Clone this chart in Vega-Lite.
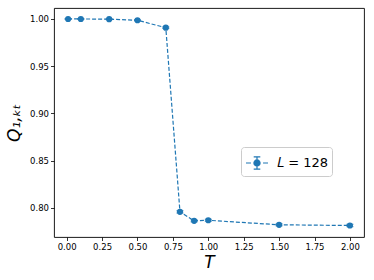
{
  "$schema": "https://vega.github.io/schema/vega-lite/v6.json",
  "width": 310,
  "height": 229,
  "autosize": "none",
  "padding": {"left": 54, "top": 8, "right": 10, "bottom": 43},
  "background": "white",
  "config": {
    "font": "DejaVu Sans",
    "view": {"stroke": "#000000", "strokeWidth": 0.9},
    "axis": {
      "grid": false,
      "domain": false,
      "tickColor": "#000000",
      "tickSize": 3.5,
      "tickWidth": 0.8,
      "labelFont": "DejaVu Sans",
      "labelFontSize": 8.5,
      "labelColor": "#000000",
      "labelPadding": 2,
      "titleFont": "DejaVu Sans",
      "titleFontWeight": "normal",
      "titleColor": "#000000"
    }
  },
  "data": {
    "values": [
      {"T": 0.01, "Q": 1.0, "err": 0.0004, "series": "𝐿 = 128"},
      {"T": 0.1, "Q": 1.0, "err": 0.0004, "series": "𝐿 = 128"},
      {"T": 0.3, "Q": 0.9998, "err": 0.0004, "series": "𝐿 = 128"},
      {"T": 0.5, "Q": 0.9986, "err": 0.0005, "series": "𝐿 = 128"},
      {"T": 0.7, "Q": 0.9908, "err": 0.0008, "series": "𝐿 = 128"},
      {"T": 0.8, "Q": 0.7959, "err": 0.0012, "series": "𝐿 = 128"},
      {"T": 0.9, "Q": 0.7864, "err": 0.001, "series": "𝐿 = 128"},
      {"T": 1.0, "Q": 0.787, "err": 0.001, "series": "𝐿 = 128"},
      {"T": 1.5, "Q": 0.7822, "err": 0.001, "series": "𝐿 = 128"},
      {"T": 2.0, "Q": 0.7815, "err": 0.0012, "series": "𝐿 = 128"}
    ]
  },
  "encoding": {
    "x": {
      "field": "T",
      "type": "quantitative",
      "scale": {"domain": [-0.0895, 2.0995], "nice": false, "zero": false},
      "axis": {
        "values": [0, 0.25, 0.5, 0.75, 1.0, 1.25, 1.5, 1.75, 2.0],
        "format": ".2f",
        "title": "T",
        "titleFontSize": 17,
        "titleFontStyle": "italic",
        "titlePadding": 3
      }
    }
  },
  "layer": [
    {
      "mark": {"type": "line", "color": "#1f77b4", "strokeDash": [4, 2], "strokeWidth": 1.2},
      "encoding": {
        "y": {
          "field": "Q",
          "type": "quantitative",
          "title": "Q₁,ₖₜ",
          "scale": {"domain": [0.7693, 1.0116], "nice": false, "zero": false},
          "axis": {
            "values": [0.8, 0.85, 0.9, 0.95, 1.0],
            "format": ".2f",
            "titleFontSize": 17,
            "titleFontStyle": "italic",
            "titlePadding": 6
          }
        }
      }
    },
    {
      "mark": {"type": "errorbar", "ticks": {"size": 7, "color": "#1f77b4"}, "color": "#1f77b4", "thickness": 1.2},
      "encoding": {
        "y": {"field": "Q", "type": "quantitative", "title": "Q₁,ₖₜ"},
        "yError": {"field": "err"}
      }
    },
    {
      "mark": {"type": "point", "filled": true, "opacity": 1, "size": 38},
      "encoding": {
        "y": {"field": "Q", "type": "quantitative", "title": "Q₁,ₖₜ"},
        "color": {
          "field": "series",
          "type": "nominal",
          "scale": {"range": ["#1f77b4"]},
          "legend": {
            "title": null,
            "orient": "none",
            "legendX": 187,
            "legendY": 139,
            "symbolType": "M-1,0H-0.55M-0.25,0H0.25M0.55,0H1M0,-0.55V0.55M-0.3,-0.55H0.3M-0.3,0.55H0.3M-0.28,0A0.28,0.28 0 1,0 0.28,0A0.28,0.28 0 1,0 -0.28,0Z",
            "symbolSize": 484,
            "symbolStrokeWidth": 1.2,
            "symbolFillColor": "#1f77b4",
            "symbolStrokeColor": "#1f77b4",
            "symbolOpacity": 1,
            "labelFontSize": 13,
            "labelFont": "DejaVu Sans",
            "labelColor": "#000000",
            "labelOffset": 8,
            "strokeColor": "#cccccc",
            "fillColor": "#ffffff",
            "cornerRadius": 3,
            "padding": 4
          }
        }
      }
    }
  ]
}
